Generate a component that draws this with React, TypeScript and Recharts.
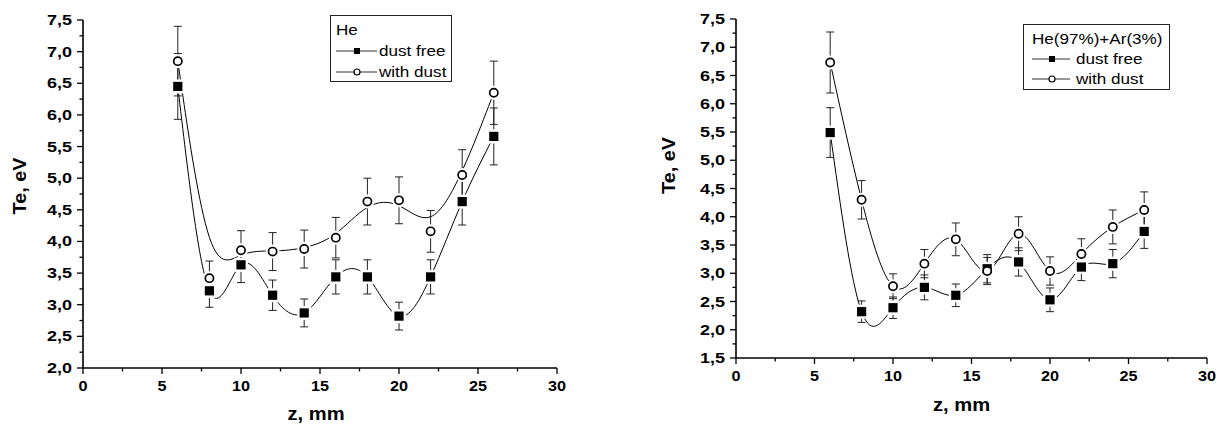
import React from 'react'
import { LineChart, Line, XAxis, YAxis, ErrorBar, Legend } from 'recharts'

// z positions (mm)
const zPos = [6, 8, 10, 12, 14, 16, 18, 20, 22, 24, 26]

// He panel
const heFree = [6.45, 3.22, 3.63, 3.15, 2.87, 3.44, 3.44, 2.82, 3.44, 4.63, 5.66]
const heFreeErr = [0.52, 0.26, 0.28, 0.24, 0.22, 0.27, 0.27, 0.22, 0.27, 0.37, 0.45]
const heDust = [6.85, 3.42, 3.86, 3.84, 3.88, 4.06, 4.63, 4.65, 4.16, 5.05, 6.35]
const heDustErr = [0.55, 0.27, 0.31, 0.3, 0.3, 0.32, 0.37, 0.37, 0.33, 0.4, 0.5]

// He(97%)+Ar(3%) panel
const arFree = [5.49, 2.32, 2.39, 2.75, 2.61, 3.08, 3.2, 2.53, 3.11, 3.17, 3.74]
const arFreeErr = [0.44, 0.19, 0.19, 0.22, 0.2, 0.25, 0.25, 0.21, 0.24, 0.25, 0.3]
const arDust = [6.73, 4.3, 2.77, 3.17, 3.6, 3.04, 3.7, 3.04, 3.34, 3.82, 4.12]
const arDustErr = [0.54, 0.34, 0.22, 0.25, 0.29, 0.24, 0.3, 0.25, 0.27, 0.3, 0.32]

const xMajor = [0, 5, 10, 15, 20, 25, 30]
const heYMajor = [2, 2.5, 3, 3.5, 4, 4.5, 5, 5.5, 6, 6.5, 7, 7.5]
const arYMajor = [1.5, 2, 2.5, 3, 3.5, 4, 4.5, 5, 5.5, 6, 6.5, 7, 7.5]

const FONT = '"Liberation Sans", Arial, sans-serif'

// majors plus a minor tick half way between each pair
const withMinor = (major: number[]) => {
  const out: number[] = []
  major.forEach((v, i) => {
    out.push(v)
    if (i < major.length - 1) out.push((v + major[i + 1]) / 2)
  })
  return out
}

const isMajor = (v: number, major: number[]) => major.some((m) => Math.abs(m - v) < 1e-6)

type Row = { z: number; free: number; freeErr: number; dust: number; dustErr: number }

const buildRows = (free: number[], freeErr: number[], dust: number[], dustErr: number[]): Row[] =>
  zPos.map((z, i) => ({ z, free: free[i], freeErr: freeErr[i], dust: dust[i], dustErr: dustErr[i] }))

const makeYTick = (major: number[]) => (props: any) => {
  const { x, y, payload } = props
  const v = payload.value as number
  const big = isMajor(v, major)
  return (
    <g>
      <line x1={x} x2={x - (big ? 6 : 3.5)} y1={y} y2={y} stroke="#000" strokeWidth={1.3} />
      {big && (
        <text
          transform={`translate(${x - 11},${y + 5}) scale(1.2,1)`}
          textAnchor="end"
          fontFamily={FONT}
          fontWeight="bold"
          fontSize={15}
          fill="#000"
        >
          {v.toFixed(1).replace('.', ',')}
        </text>
      )}
    </g>
  )
}

const XTick = (props: any) => {
  const { x, y, payload } = props
  const v = payload.value as number
  const big = isMajor(v, xMajor)
  return (
    <g>
      <line x1={x} x2={x} y1={y} y2={y + (big ? 6 : 3.5)} stroke="#000" strokeWidth={1.3} />
      {big && (
        <text
          transform={`translate(${x},${y + 23}) scale(1.08,1)`}
          textAnchor="middle"
          fontFamily={FONT}
          fontWeight="bold"
          fontSize={15}
          fill="#000"
        >
          {v}
        </text>
      )}
    </g>
  )
}

// markers
const squareDot = (p: any) => (
  <rect key={`s${p.index}`} x={p.cx - 4.6} y={p.cy - 4.6} width={9.2} height={9.2} fill="#000" />
)
const circleDot = (p: any) => (
  <circle key={`c${p.index}`} cx={p.cx} cy={p.cy} r={4.1} fill="#fff" stroke="#000" strokeWidth={1.7} />
)
// white halos so the curves stop short of the markers
const squareHalo = (p: any) => (
  <rect key={`sh${p.index}`} x={p.cx - 7} y={p.cy - 7} width={14} height={14} fill="#fff" />
)
const circleHalo = (p: any) => <circle key={`ch${p.index}`} cx={p.cx} cy={p.cy} r={7} fill="#fff" />

type LegendCfg = {
  title: string
  left: number
  top: number
  width: number
  height: number
  titleX: number
  lineX1: number
  lineX2: number
  markX: number
  textX: number
  rows: number[]
}

const legendText = (x: number, y: number, s: string) => (
  <text transform={`translate(${x},${y}) scale(1.22,1)`} fontFamily={FONT} fontSize={14} fill="#000">
    {s}
  </text>
)

const renderLegend = (c: LegendCfg) => () => (
  <svg width={c.width} height={c.height} style={{ display: 'block' }}>
    <rect x={0.5} y={0.5} width={c.width - 1} height={c.height - 1} fill="#fff" stroke="#222" strokeWidth={1} />
    {legendText(c.titleX, c.rows[0], c.title)}
    <line x1={c.lineX1} x2={c.lineX2} y1={c.rows[1] - 5} y2={c.rows[1] - 5} stroke="#333" strokeWidth={1} />
    <rect x={c.markX - 3} y={c.rows[1] - 8} width={6} height={6} fill="#000" />
    {legendText(c.textX, c.rows[1], 'dust free')}
    <line x1={c.lineX1} x2={c.lineX2} y1={c.rows[2] - 5} y2={c.rows[2] - 5} stroke="#333" strokeWidth={1} />
    <circle cx={c.markX} cy={c.rows[2] - 5} r={3} fill="#fff" stroke="#000" strokeWidth={1.2} />
    {legendText(c.textX, c.rows[2], 'with dust')}
  </svg>
)

type PanelProps = {
  rows: Row[]
  left: number
  width: number
  yAxisWidth: number
  margin: { top: number; right: number; bottom: number; left: number }
  yMajor: number[]
  freeCurve: 'natural' | 'basis'
  dustCurve: 'natural' | 'basis'
  legend: LegendCfg
  yTitle: { x: number; dy: number }
  xTitle: { dx: number; dy: number }
}

const Panel = ({ rows, left, width, yAxisWidth, margin, yMajor, freeCurve, dustCurve, legend, yTitle, xTitle }: PanelProps) => {
  const yDomain: [number, number] = [yMajor[0], yMajor[yMajor.length - 1]]
  return (
    <div style={{ position: 'absolute', left, top: 0 }}>
      <LineChart width={width} height={427} data={rows} margin={margin}>
        <XAxis
          type="number"
          dataKey="z"
          domain={[0, 30]}
          ticks={withMinor(xMajor)}
          interval={0}
          tickSize={0}
          tickMargin={0}
          tickLine={false}
          tick={XTick}
          axisLine={{ stroke: '#000', strokeWidth: 1.6 }}
          height={50}
          allowDataOverflow
          label={(p: any) => {
            const vb = p.viewBox
            return (
              <text
                transform={`translate(${vb.x + vb.width / 2 + xTitle.dx},${vb.y + xTitle.dy}) scale(1.12,1)`}
                textAnchor="middle"
                fontFamily={FONT}
                fontWeight="bold"
                fontSize={18}
                fill="#000"
              >
                z, mm
              </text>
            )
          }}
        />
        <YAxis
          type="number"
          domain={yDomain}
          ticks={withMinor(yMajor)}
          interval={0}
          tickSize={0}
          tickMargin={0}
          tickLine={false}
          tick={makeYTick(yMajor)}
          axisLine={{ stroke: '#000', strokeWidth: 1.6 }}
          width={yAxisWidth}
          allowDataOverflow
          label={(p: any) => {
            const vb = p.viewBox
            return (
              <text
                transform={`translate(${yTitle.x},${vb.y + vb.height / 2 + yTitle.dy}) rotate(-90) scale(1.1,1)`}
                textAnchor="middle"
                fontFamily={FONT}
                fontWeight="bold"
                fontSize={18}
                fill="#000"
              >
                Te, eV
              </text>
            )
          }}
        />
        <Legend
          layout="vertical"
          align="center"
          verticalAlign="middle"
          content={renderLegend(legend)}
          wrapperStyle={{ left: legend.left, top: legend.top, width: legend.width, height: legend.height, lineHeight: 0 }}
        />
        {/* curves first, with halos cut round the points */}
        <Line dataKey="free" type={freeCurve} stroke="#000" strokeWidth={1} dot={squareHalo} activeDot={false} isAnimationActive={false} />
        <Line dataKey="dust" type={dustCurve} stroke="#000" strokeWidth={1} dot={circleHalo} activeDot={false} isAnimationActive={false} />
        {/* then error bars and markers on top */}
        <Line dataKey="free" stroke="none" dot={squareDot} activeDot={false} isAnimationActive={false}>
          <ErrorBar dataKey="freeErr" width={4} stroke="#222" strokeWidth={1} direction="y" />
        </Line>
        <Line dataKey="dust" stroke="none" dot={circleDot} activeDot={false} isAnimationActive={false}>
          <ErrorBar dataKey="dustErr" width={4} stroke="#222" strokeWidth={1} direction="y" />
        </Line>
      </LineChart>
    </div>
  )
}

const heRows = buildRows(heFree, heFreeErr, heDust, heDustErr)
const arRows = buildRows(arFree, arFreeErr, arDust, arDustErr)

export default function App() {
  return (
    <div style={{ position: 'absolute', left: 0, top: 0, width: 1218, height: 427, background: '#fff', overflow: 'hidden' }}>
      <style>{'.recharts-surface{overflow:visible}'}</style>
      <Panel
        rows={heRows}
        left={0}
        width={600}
        yAxisWidth={83}
        margin={{ top: 20, right: 43, bottom: 9, left: 0 }}
        yMajor={heYMajor}
        freeCurve="natural"
        dustCurve="basis"
        legend={{
          title: 'He',
          left: 330,
          top: 15,
          width: 122,
          height: 67,
          titleX: 6,
          lineX1: 6,
          lineX2: 47,
          markX: 27,
          textX: 49,
          rows: [20, 41, 62],
        }}
        yTitle={{ x: 26, dy: -8 }}
        xTitle={{ dx: -4, dy: 52 }}
      />
      <Panel
        rows={arRows}
        left={610}
        width={600}
        yAxisWidth={126}
        margin={{ top: 19, right: 3, bottom: 19, left: 0 }}
        yMajor={arYMajor}
        freeCurve="natural"
        dustCurve="natural"
        legend={{
          title: 'He(97%)+Ar(3%)',
          left: 413,
          top: 24,
          width: 147,
          height: 66,
          titleX: 9,
          lineX1: 9,
          lineX2: 47,
          markX: 29,
          textX: 53,
          rows: [20, 40, 60],
        }}
        yTitle={{ x: 65, dy: -23 }}
        xTitle={{ dx: -10, dy: 53 }}
      />
    </div>
  )
}
